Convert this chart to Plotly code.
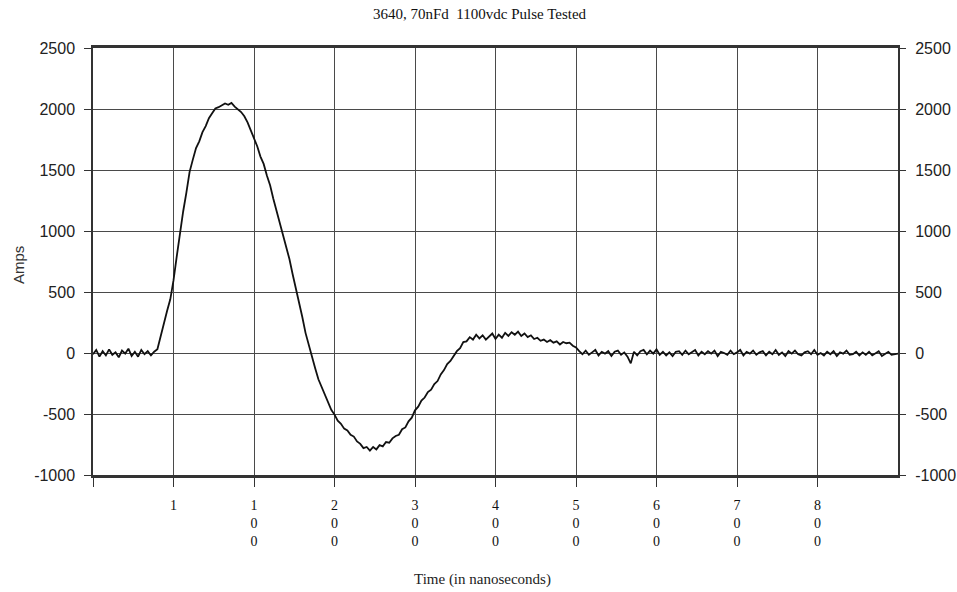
import plotly.graph_objects as go

# Sample times (ns), 4 ns apart
time_ns = [i * 4 for i in range(251)]

# Current (A)
amps = [
    -10, 25, -30, 15, -20, 30, -15, 5, -35, 20,
    -5, 35, -25, 10, -30, 25, -10, 15, -20, 10,
    30, 140, 235, 345, 440, 595, 790, 983, 1160, 1315,
    1485, 1585, 1680, 1735, 1810, 1860, 1925, 1965, 2005, 2015,
    2030, 2045, 2035, 2050, 2020, 2000, 1975, 1940, 1890, 1825,
    1760, 1695, 1610, 1550, 1455, 1375, 1265, 1170, 1065, 980,
    865, 770, 645, 535, 405, 295, 165, 65, -45, -125,
    -215, -275, -350, -400, -465, -505, -555, -580, -620, -635,
    -670, -685, -725, -745, -780, -770, -800, -770, -790, -755,
    -765, -730, -735, -700, -680, -670, -625, -610, -560, -530,
    -470, -440, -390, -365, -320, -300, -255, -230, -175, -140,
    -90, -65, -20, 15, 40, 90, 95, 130, 110, 150,
    120, 145, 110, 135, 160, 115, 150, 125, 165, 140,
    170, 150, 175, 140, 160, 130, 145, 115, 125, 100,
    110, 90, 105, 85, 95, 70, 90, 80, 85, 60,
    45, 15, -10, 20, -15, 5, 25, -20, 10, -5,
    15, -25, 10, 20, -15, 5, -30, -85, 10, -20,
    15, 25, -10, 20, -5, 30, -15, 10, -20, 5,
    -25, 10, 15, -15, 20, -10, 5, 25, -20, 10,
    -10, 15, -5, 20, -25, 10, 0, -15, 20, -10,
    5, 25, -20, 10, -5, 20, -15, 5, 15, -20,
    10, -10, 25, -15, 5, -25, 15, -5, 20, -10,
    -20, 5, 15, -10, 25, -15, 0, -20, 10, -10,
    15, -25, 5, -5, 20, -15, -10, 10, -20, 5,
    -15, 10, -20, 0, 15, -25, -5, 10, -15, -10,
    -5,
]

x_tickvals = [0, 100, 200, 300, 400, 500, 600, 700, 800, 900]
x_ticktext = ["", "1", "1<br>0<br>0", "2<br>0<br>0", "3<br>0<br>0", "4<br>0<br>0",
              "5<br>0<br>0", "6<br>0<br>0", "7<br>0<br>0", "8<br>0<br>0"]
y_tickvals = [-1000, -500, 0, 500, 1000, 1500, 2000, 2500]
y_ticktext = ["-1000", "-500", "0", "500", "1000", "1500", "2000", "2500"]

title_text = "3640, 70nFd  1100vdc Pulse Tested"
x_title = "Time (in nanoseconds)"
y_title = "Amps"

SERIF = "Liberation Serif, Times New Roman, serif"
SANS = "Liberation Sans, Arial, sans-serif"

fig = go.Figure()
fig.add_trace(go.Scatter(x=time_ns, y=amps, mode="lines",
                         line=dict(color="#111111", width=1.8), hoverinfo="skip"))
fig.add_trace(go.Scatter(x=time_ns, y=amps, mode="lines", yaxis="y2",
                         line=dict(color="rgba(0,0,0,0)", width=0), hoverinfo="skip"))

fig.update_layout(
    width=957, height=592, autosize=False,
    margin=dict(l=93, r=59, t=48, b=117),
    paper_bgcolor="white", plot_bgcolor="white",
    showlegend=False,
    xaxis=dict(range=[0, 1000], tickmode="array", tickvals=x_tickvals, ticktext=x_ticktext,
               ticks="outside", ticklen=9, tickcolor="#333", tickwidth=1,
               showgrid=True, gridcolor="#4a4a4a", gridwidth=1,
               showline=True, linecolor="#333", linewidth=2.5, mirror=True,
               zeroline=False, automargin=False, ticklabelstandoff=6,
               tickfont=dict(family=SERIF, size=14, color="#111")),
    yaxis=dict(range=[-1000, 2500], tickmode="array", tickvals=y_tickvals, ticktext=y_ticktext,
               ticks="outside", ticklen=7, tickcolor="#333",
               showgrid=True, gridcolor="#4a4a4a", gridwidth=1,
               showline=True, linecolor="#333", linewidth=1.5, mirror=True,
               zeroline=False, ticklabelstandoff=6, automargin=False,
               tickfont=dict(family=SANS, size=16, color="#222")),
    yaxis2=dict(range=[-1000, 2500], tickmode="array", tickvals=y_tickvals, ticktext=y_ticktext,
                overlaying="y", side="right", automargin=False,
                ticks="outside", ticklen=7, tickcolor="#333",
                showgrid=False, zeroline=False, showline=False, ticklabelstandoff=6,
                tickfont=dict(family=SANS, size=16, color="#222")),
    annotations=[
        dict(text=title_text, xref="paper", yref="paper",
             x=(480 - 93) / 805, y=(475 - 14) / 427, xanchor="center", yanchor="middle",
             showarrow=False, font=dict(family=SERIF, size=15, color="#111")),
        dict(text=x_title, xref="paper", yref="paper",
             x=(482 - 93) / 805, y=(475 - 579) / 427, xanchor="center", yanchor="middle",
             showarrow=False, font=dict(family=SERIF, size=15, color="#222")),
        dict(text=y_title, xref="paper", yref="paper",
             x=(18 - 93) / 805, y=(475 - 265) / 427, xanchor="center", yanchor="middle",
             textangle=-90, showarrow=False, font=dict(family=SANS, size=15, color="#333")),
    ],
)

post = ("var gd=document.getElementById('{plot_id}');"
        "document.documentElement.style.margin='0px';document.documentElement.style.overflow='hidden';"
        "document.body.style.margin='0px';document.body.style.padding='0px';"
        "document.body.style.overflow='hidden';"
        "gd.style.width='957px';gd.style.height='592px';"
        "if(gd.parentElement){gd.parentElement.style.width='957px';gd.parentElement.style.height='592px';}"
        "Plotly.relayout(gd,{autosize:false,width:957,height:592});")

fig.write_html("out.html", config={"responsive": False, "displayModeBar": False},
               post_script=post)
